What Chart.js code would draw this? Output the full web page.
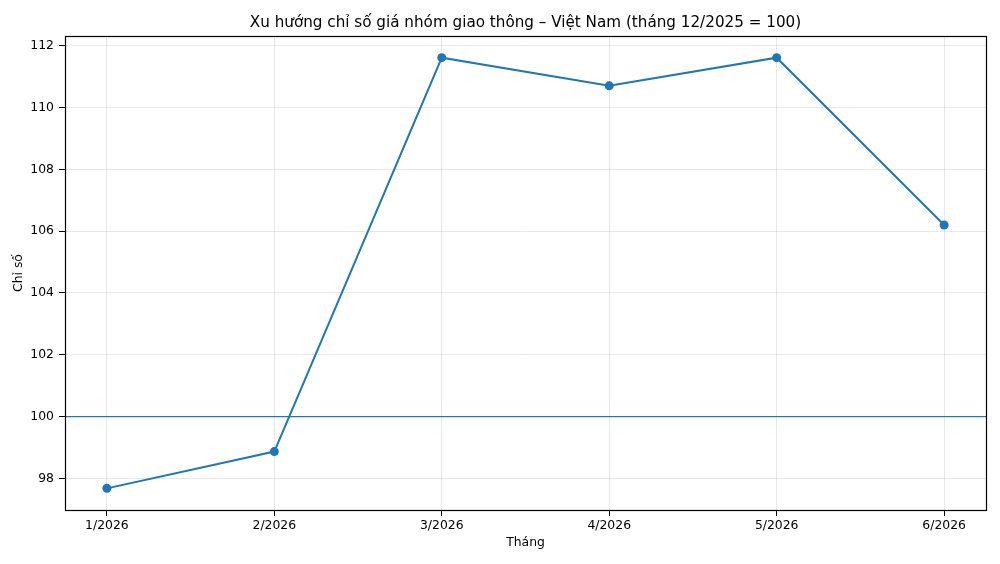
<!DOCTYPE html>
<html>
<head>
<meta charset="utf-8">
<script src="https://cdn.jsdelivr.net/npm/chart.js@4"></script>
<style>
  html, body { margin: 0; padding: 0; background: #fff; }
  #wrap { width: 1000px; height: 564px; }
</style>
</head>
<body>
<div id="wrap"><canvas id="chart" width="1000" height="564"></canvas></div>
<script>
// ===== Data =====
const months = ['1/2026', '2/2026', '3/2026', '4/2026', '5/2026', '6/2026'];
const indexValues = [97.68, 98.87, 111.61, 110.70, 111.61, 106.20];
const yTicks = [98, 100, 102, 104, 106, 108, 110, 112];
const baseline = 100;

const blue = '#1f77b4';
const font = 'DejaVu Sans';

// ===== Plugins =====
// horizontal reference line at 100, drawn through the y scale
const baselinePlugin = {
  id: 'baseline',
  beforeDatasetsDraw(chart) {
    const { ctx, chartArea, scales } = chart;
    const y = scales.y.getPixelForValue(baseline);
    ctx.save();
    ctx.strokeStyle = blue;
    ctx.lineWidth = 1.4;
    ctx.beginPath();
    ctx.moveTo(chartArea.left, y);
    ctx.lineTo(chartArea.right, y);
    ctx.stroke();
    ctx.restore();
  }
};

// full box around the plot area, like matplotlib spines
const framePlugin = {
  id: 'frame',
  afterDraw(chart) {
    const { ctx, chartArea: a } = chart;
    ctx.save();
    ctx.strokeStyle = '#000';
    ctx.lineWidth = 1.2;
    ctx.strokeRect(Math.round(a.left) + 0.5, Math.round(a.top) + 0.5,
      Math.round(a.right - a.left), Math.round(a.bottom - a.top));
    ctx.restore();
  }
};

// ===== Chart =====
new Chart(document.getElementById('chart'), {
  type: 'line',
  data: {
    datasets: [{
      data: indexValues.map((v, i) => ({ x: i, y: v })),
      borderColor: blue,
      backgroundColor: blue,
      borderWidth: 2,
      pointRadius: 4.5,
      pointHoverRadius: 4.5,
      pointBorderWidth: 0,
      tension: 0
    }]
  },
  options: {
    responsive: false,
    devicePixelRatio: 1,
    animation: false,
    layout: { padding: { left: 0, right: 14, top: 0, bottom: 0 } },
    plugins: {
      legend: { display: false },
      tooltip: { enabled: false },
      title: {
        display: true,
        fullSize: false,
        text: 'Xu hướng chỉ số giá nhóm giao thông – Việt Nam (tháng 12/2025 = 100)',
        color: '#000',
        font: { family: font, size: 15.2, weight: 'normal' },
        padding: { top: 13.5, bottom: 4.3 }
      }
    },
    scales: {
      x: {
        type: 'linear',
        min: -0.25,
        max: 5.25,
        afterBuildTicks(scale) {
          scale.ticks = months.map((_, i) => ({ value: i }));
        },
        afterFit(scale) { scale.height = 54; },
        ticks: {
          callback: v => months[v],
          color: '#000',
          font: { family: font, size: 12.4 },
          padding: 2,
          maxRotation: 0
        },
        grid: { color: 'rgba(0,0,0,0.09)', tickColor: '#000', tickLength: 6 },
        border: { display: false },
        title: {
          display: true,
          text: 'Tháng',
          color: '#000',
          font: { family: font, size: 12.4 },
          padding: { top: 0, bottom: 13.5 }
        }
      },
      y: {
        min: 96.98,
        max: 112.31,
        afterBuildTicks(scale) {
          scale.ticks = yTicks.map(v => ({ value: v }));
        },
        afterFit(scale) { scale.width = 65; },
        ticks: {
          color: '#000',
          font: { family: font, size: 12.4 },
          padding: 5
        },
        grid: { color: 'rgba(0,0,0,0.09)', tickColor: '#000', tickLength: 6 },
        border: { display: false },
        title: {
          display: true,
          text: 'Chỉ số',
          color: '#000',
          font: { family: font, size: 12.4 },
          padding: { top: 11.5, bottom: 0 }
        }
      }
    }
  },
  plugins: [baselinePlugin, framePlugin]
});
</script>
</body>
</html>
